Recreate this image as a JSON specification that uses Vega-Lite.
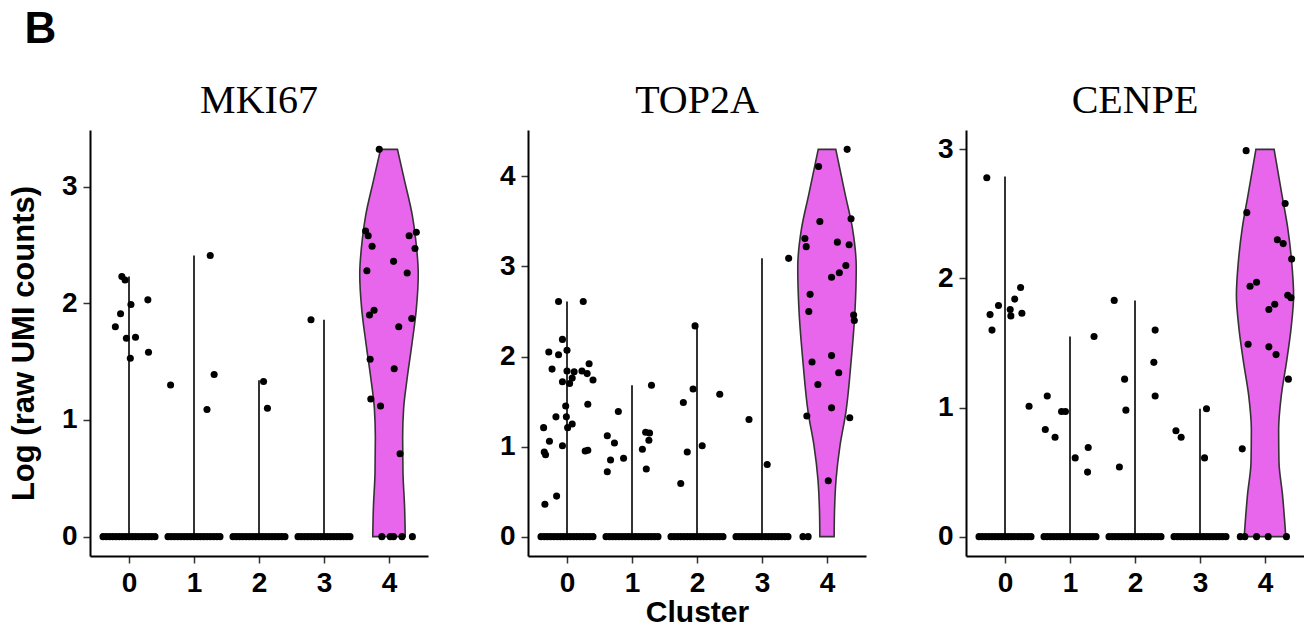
{
  "$schema": "https://vega.github.io/schema/vega-lite/v6.json",
  "padding": {"left": 8, "top": 8, "right": 0, "bottom": 0},
  "title": {"text": "B", "anchor": "start", "font": "Liberation Sans", "fontSize": 44, "fontWeight": "bold", "color": "#000000", "dx": 16, "offset": 29},
  "bounds": "flush",
  "spacing": 100,
  "config": {
    "view": {"stroke": null},
    "axis": {"grid": false, "domainColor": "#000000", "domainWidth": 2, "tickColor": "#333333", "tickWidth": 1.5, "tickSize": 7, "labelFont": "Liberation Sans", "labelFontWeight": "bold", "labelFontSize": 28, "labelColor": "#000000", "titleFont": "Liberation Sans", "titleFontWeight": "bold", "titleFontSize": 31, "titleColor": "#000000", "labelPadding": 6},
    "title": {"font": "Liberation Serif", "fontSize": 40, "fontWeight": "normal", "color": "#000000", "anchor": "middle", "offset": 9}
  },
  "datasets": {
    "pts": [
      {"gene":"MKI67","x":-0.11,"y":2.23},{"gene":"MKI67","x":-0.06,"y":2.2},{"gene":"MKI67","x":-0.13,"y":1.91},{"gene":"MKI67","x":0.03,"y":1.99},{"gene":"MKI67","x":0.29,"y":2.03},{"gene":"MKI67","x":-0.21,"y":1.8},{"gene":"MKI67","x":-0.04,"y":1.7},{"gene":"MKI67","x":0.1,"y":1.71},{"gene":"MKI67","x":0.3,"y":1.58},{"gene":"MKI67","x":0.02,"y":1.53},
      {"gene":"MKI67","x":0.64,"y":1.3},{"gene":"MKI67","x":1.25,"y":2.41},{"gene":"MKI67","x":1.31,"y":1.39},{"gene":"MKI67","x":1.2,"y":1.09},
      {"gene":"MKI67","x":2.07,"y":1.33},{"gene":"MKI67","x":2.13,"y":1.1},
      {"gene":"MKI67","x":2.8,"y":1.86},
      {"gene":"MKI67","x":3.85,"y":3.32},{"gene":"MKI67","x":3.64,"y":2.62},{"gene":"MKI67","x":3.68,"y":2.58},{"gene":"MKI67","x":3.74,"y":2.49},{"gene":"MKI67","x":3.66,"y":2.28},{"gene":"MKI67","x":4.31,"y":2.58},{"gene":"MKI67","x":4.42,"y":2.61},{"gene":"MKI67","x":4.4,"y":2.47},{"gene":"MKI67","x":4.07,"y":2.36},{"gene":"MKI67","x":4.28,"y":2.26},{"gene":"MKI67","x":3.7,"y":1.9},{"gene":"MKI67","x":3.77,"y":1.94},{"gene":"MKI67","x":4.35,"y":1.87},{"gene":"MKI67","x":4.15,"y":1.8},{"gene":"MKI67","x":3.71,"y":1.52},{"gene":"MKI67","x":4.08,"y":1.44},{"gene":"MKI67","x":3.72,"y":1.18},{"gene":"MKI67","x":3.87,"y":1.12},{"gene":"MKI67","x":4.17,"y":0.71},
      {"gene":"MKI67","x":3.89,"y":0},{"gene":"MKI67","x":4.02,"y":0},{"gene":"MKI67","x":4.07,"y":0},{"gene":"MKI67","x":4.2,"y":0},{"gene":"MKI67","x":4.36,"y":0},
      {"gene":"TOP2A","x":-0.13,"y":2.61},{"gene":"TOP2A","x":0.25,"y":2.61},{"gene":"TOP2A","x":-0.07,"y":2.19},{"gene":"TOP2A","x":-0.28,"y":2.05},{"gene":"TOP2A","x":-0.13,"y":2.02},{"gene":"TOP2A","x":0.0,"y":2.07},{"gene":"TOP2A","x":-0.23,"y":1.86},{"gene":"TOP2A","x":0.0,"y":1.84},{"gene":"TOP2A","x":0.11,"y":1.83},{"gene":"TOP2A","x":0.23,"y":1.84},{"gene":"TOP2A","x":0.31,"y":1.81},{"gene":"TOP2A","x":0.34,"y":1.92},{"gene":"TOP2A","x":0.4,"y":1.74},{"gene":"TOP2A","x":-0.07,"y":1.72},{"gene":"TOP2A","x":0.04,"y":1.7},{"gene":"TOP2A","x":0.08,"y":1.76},{"gene":"TOP2A","x":-0.02,"y":1.45},{"gene":"TOP2A","x":0.32,"y":1.47},{"gene":"TOP2A","x":-0.17,"y":1.33},{"gene":"TOP2A","x":-0.01,"y":1.33},{"gene":"TOP2A","x":0.01,"y":1.21},{"gene":"TOP2A","x":0.08,"y":1.25},{"gene":"TOP2A","x":-0.36,"y":1.21},{"gene":"TOP2A","x":-0.27,"y":1.06},{"gene":"TOP2A","x":-0.07,"y":1.01},{"gene":"TOP2A","x":-0.35,"y":0.94},{"gene":"TOP2A","x":-0.33,"y":0.91},{"gene":"TOP2A","x":0.28,"y":0.95},{"gene":"TOP2A","x":0.32,"y":0.96},{"gene":"TOP2A","x":-0.16,"y":0.45},{"gene":"TOP2A","x":-0.34,"y":0.36},
      {"gene":"TOP2A","x":0.62,"y":1.12},{"gene":"TOP2A","x":0.67,"y":0.85},{"gene":"TOP2A","x":0.62,"y":0.72},{"gene":"TOP2A","x":0.73,"y":1.04},{"gene":"TOP2A","x":0.79,"y":1.39},{"gene":"TOP2A","x":0.87,"y":0.87},{"gene":"TOP2A","x":1.16,"y":0.97},{"gene":"TOP2A","x":1.21,"y":1.16},{"gene":"TOP2A","x":1.27,"y":1.15},{"gene":"TOP2A","x":1.26,"y":1.07},{"gene":"TOP2A","x":1.22,"y":0.75},{"gene":"TOP2A","x":1.3,"y":1.68},
      {"gene":"TOP2A","x":1.79,"y":1.49},{"gene":"TOP2A","x":1.85,"y":0.94},{"gene":"TOP2A","x":1.75,"y":0.59},{"gene":"TOP2A","x":1.94,"y":1.64},{"gene":"TOP2A","x":1.97,"y":2.34},{"gene":"TOP2A","x":2.08,"y":1.01},{"gene":"TOP2A","x":2.35,"y":1.58},
      {"gene":"TOP2A","x":2.8,"y":1.3},{"gene":"TOP2A","x":3.08,"y":0.8},{"gene":"TOP2A","x":3.41,"y":3.09},
      {"gene":"TOP2A","x":4.31,"y":4.3},{"gene":"TOP2A","x":3.87,"y":4.11},{"gene":"TOP2A","x":3.89,"y":3.5},{"gene":"TOP2A","x":4.37,"y":3.53},{"gene":"TOP2A","x":3.66,"y":3.31},{"gene":"TOP2A","x":3.68,"y":3.22},{"gene":"TOP2A","x":4.16,"y":3.27},{"gene":"TOP2A","x":4.34,"y":3.24},{"gene":"TOP2A","x":4.29,"y":3.01},{"gene":"TOP2A","x":4.19,"y":2.93},{"gene":"TOP2A","x":4.07,"y":2.88},{"gene":"TOP2A","x":3.74,"y":2.69},{"gene":"TOP2A","x":3.72,"y":2.5},{"gene":"TOP2A","x":4.41,"y":2.46},{"gene":"TOP2A","x":4.42,"y":2.4},{"gene":"TOP2A","x":3.77,"y":1.94},{"gene":"TOP2A","x":4.07,"y":2.01},{"gene":"TOP2A","x":3.86,"y":1.69},{"gene":"TOP2A","x":4.18,"y":1.82},{"gene":"TOP2A","x":4.07,"y":1.43},{"gene":"TOP2A","x":3.69,"y":1.34},{"gene":"TOP2A","x":4.35,"y":1.32},{"gene":"TOP2A","x":4.02,"y":0.62},
      {"gene":"TOP2A","x":3.63,"y":0},{"gene":"TOP2A","x":3.71,"y":0},
      {"gene":"CENPE","x":-0.28,"y":2.78},{"gene":"CENPE","x":-0.23,"y":1.72},{"gene":"CENPE","x":-0.1,"y":1.79},{"gene":"CENPE","x":-0.2,"y":1.6},{"gene":"CENPE","x":0.08,"y":1.76},{"gene":"CENPE","x":0.09,"y":1.71},{"gene":"CENPE","x":0.15,"y":1.84},{"gene":"CENPE","x":0.24,"y":1.93},{"gene":"CENPE","x":0.26,"y":1.73},{"gene":"CENPE","x":0.37,"y":1.01},
      {"gene":"CENPE","x":0.65,"y":1.09},{"gene":"CENPE","x":0.62,"y":0.83},{"gene":"CENPE","x":0.77,"y":0.77},{"gene":"CENPE","x":0.87,"y":0.97},{"gene":"CENPE","x":0.93,"y":0.97},{"gene":"CENPE","x":1.08,"y":0.61},{"gene":"CENPE","x":1.28,"y":0.69},{"gene":"CENPE","x":1.27,"y":0.5},{"gene":"CENPE","x":1.37,"y":1.55},
      {"gene":"CENPE","x":1.68,"y":1.83},{"gene":"CENPE","x":1.76,"y":0.54},{"gene":"CENPE","x":1.84,"y":1.22},{"gene":"CENPE","x":1.86,"y":0.98},{"gene":"CENPE","x":2.31,"y":1.6},{"gene":"CENPE","x":2.29,"y":1.35},{"gene":"CENPE","x":2.31,"y":1.09},
      {"gene":"CENPE","x":2.63,"y":0.82},{"gene":"CENPE","x":2.71,"y":0.77},{"gene":"CENPE","x":3.1,"y":0.99},{"gene":"CENPE","x":3.07,"y":0.61},
      {"gene":"CENPE","x":3.71,"y":2.99},{"gene":"CENPE","x":3.72,"y":2.51},{"gene":"CENPE","x":4.31,"y":2.58},{"gene":"CENPE","x":4.19,"y":2.3},{"gene":"CENPE","x":4.28,"y":2.27},{"gene":"CENPE","x":4.41,"y":2.15},{"gene":"CENPE","x":3.77,"y":1.94},{"gene":"CENPE","x":3.87,"y":1.97},{"gene":"CENPE","x":4.35,"y":1.87},{"gene":"CENPE","x":4.4,"y":1.85},{"gene":"CENPE","x":4.15,"y":1.8},{"gene":"CENPE","x":4.06,"y":1.76},{"gene":"CENPE","x":3.74,"y":1.49},{"gene":"CENPE","x":4.06,"y":1.47},{"gene":"CENPE","x":4.17,"y":1.41},{"gene":"CENPE","x":4.36,"y":1.22},{"gene":"CENPE","x":3.65,"y":0.68},
      {"gene":"CENPE","x":3.62,"y":0},{"gene":"CENPE","x":3.69,"y":0},{"gene":"CENPE","x":3.87,"y":0},{"gene":"CENPE","x":4.05,"y":0},{"gene":"CENPE","x":4.33,"y":0}
    ],
    "zero": [
      {"x":-0.4,"y":0},{"x":-0.35,"y":0},{"x":-0.3,"y":0},{"x":-0.25,"y":0},{"x":-0.2,"y":0},{"x":-0.15,"y":0},{"x":-0.1,"y":0},{"x":-0.05,"y":0},{"x":0,"y":0},{"x":0.05,"y":0},{"x":0.1,"y":0},{"x":0.15,"y":0},{"x":0.2,"y":0},{"x":0.25,"y":0},{"x":0.3,"y":0},{"x":0.35,"y":0},{"x":0.4,"y":0},
      {"x":0.6,"y":0},{"x":0.65,"y":0},{"x":0.7,"y":0},{"x":0.75,"y":0},{"x":0.8,"y":0},{"x":0.85,"y":0},{"x":0.9,"y":0},{"x":0.95,"y":0},{"x":1,"y":0},{"x":1.05,"y":0},{"x":1.1,"y":0},{"x":1.15,"y":0},{"x":1.2,"y":0},{"x":1.25,"y":0},{"x":1.3,"y":0},{"x":1.35,"y":0},{"x":1.4,"y":0},
      {"x":1.6,"y":0},{"x":1.65,"y":0},{"x":1.7,"y":0},{"x":1.75,"y":0},{"x":1.8,"y":0},{"x":1.85,"y":0},{"x":1.9,"y":0},{"x":1.95,"y":0},{"x":2,"y":0},{"x":2.05,"y":0},{"x":2.1,"y":0},{"x":2.15,"y":0},{"x":2.2,"y":0},{"x":2.25,"y":0},{"x":2.3,"y":0},{"x":2.35,"y":0},{"x":2.4,"y":0},
      {"x":2.6,"y":0},{"x":2.65,"y":0},{"x":2.7,"y":0},{"x":2.75,"y":0},{"x":2.8,"y":0},{"x":2.85,"y":0},{"x":2.9,"y":0},{"x":2.95,"y":0},{"x":3,"y":0},{"x":3.05,"y":0},{"x":3.1,"y":0},{"x":3.15,"y":0},{"x":3.2,"y":0},{"x":3.25,"y":0},{"x":3.3,"y":0},{"x":3.35,"y":0},{"x":3.4,"y":0}
    ],
    "lines": [
      {"gene":"MKI67","x":0,"lo":0,"hi":2.23},{"gene":"MKI67","x":1,"lo":0,"hi":2.41},{"gene":"MKI67","x":2,"lo":0,"hi":1.34},{"gene":"MKI67","x":3,"lo":0,"hi":1.86},
      {"gene":"TOP2A","x":0,"lo":0,"hi":2.61},{"gene":"TOP2A","x":1,"lo":0,"hi":1.68},{"gene":"TOP2A","x":2,"lo":0,"hi":2.34},{"gene":"TOP2A","x":3,"lo":0,"hi":3.09},
      {"gene":"CENPE","x":0,"lo":0,"hi":2.79},{"gene":"CENPE","x":1,"lo":0,"hi":1.55},{"gene":"CENPE","x":2,"lo":0,"hi":1.83},{"gene":"CENPE","x":3,"lo":0,"hi":0.99}
    ],
    "violin": [
      {"gene":"MKI67","y":0,"lo":3.75,"hi":4.25},{"gene":"MKI67","y":0.25,"lo":3.76,"hi":4.24},{"gene":"MKI67","y":0.55,"lo":3.785,"hi":4.215},{"gene":"MKI67","y":0.85,"lo":3.79,"hi":4.21},{"gene":"MKI67","y":1.1,"lo":3.775,"hi":4.225},{"gene":"MKI67","y":1.36,"lo":3.72,"hi":4.28},{"gene":"MKI67","y":1.64,"lo":3.65,"hi":4.35},{"gene":"MKI67","y":1.95,"lo":3.58,"hi":4.42},{"gene":"MKI67","y":2.25,"lo":3.55,"hi":4.45},{"gene":"MKI67","y":2.55,"lo":3.59,"hi":4.41},{"gene":"MKI67","y":2.75,"lo":3.64,"hi":4.36},{"gene":"MKI67","y":3.05,"lo":3.76,"hi":4.24},{"gene":"MKI67","y":3.32,"lo":3.87,"hi":4.13},
      {"gene":"TOP2A","y":0,"lo":3.89,"hi":4.11},{"gene":"TOP2A","y":0.27,"lo":3.885,"hi":4.115},{"gene":"TOP2A","y":0.64,"lo":3.86,"hi":4.14},{"gene":"TOP2A","y":1.01,"lo":3.8,"hi":4.2},{"gene":"TOP2A","y":1.38,"lo":3.71,"hi":4.29},{"gene":"TOP2A","y":1.94,"lo":3.63,"hi":4.37},{"gene":"TOP2A","y":2.5,"lo":3.57,"hi":4.43},{"gene":"TOP2A","y":2.99,"lo":3.55,"hi":4.45},{"gene":"TOP2A","y":3.43,"lo":3.61,"hi":4.39},{"gene":"TOP2A","y":3.8,"lo":3.72,"hi":4.28},{"gene":"TOP2A","y":4.3,"lo":3.865,"hi":4.135},
      {"gene":"CENPE","y":0,"lo":3.68,"hi":4.32},{"gene":"CENPE","y":0.32,"lo":3.73,"hi":4.27},{"gene":"CENPE","y":0.58,"lo":3.785,"hi":4.215},{"gene":"CENPE","y":0.83,"lo":3.79,"hi":4.21},{"gene":"CENPE","y":1.09,"lo":3.75,"hi":4.25},{"gene":"CENPE","y":1.35,"lo":3.67,"hi":4.33},{"gene":"CENPE","y":1.61,"lo":3.6,"hi":4.4},{"gene":"CENPE","y":1.87,"lo":3.56,"hi":4.44},{"gene":"CENPE","y":2.13,"lo":3.59,"hi":4.41},{"gene":"CENPE","y":2.39,"lo":3.65,"hi":4.35},{"gene":"CENPE","y":2.65,"lo":3.74,"hi":4.26},{"gene":"CENPE","y":3.0,"lo":3.86,"hi":4.14}
    ]
  },
  "hconcat": [
    {
      "width": 338, "height": 426,
      "title": "MKI67",
      "layer": [
        {"data": {"name": "violin"}, "transform": [{"filter": "datum.gene === 'MKI67'"}],
         "mark": {"type": "area", "orient": "horizontal", "interpolate": "monotone", "fill": "#E766EC", "fillOpacity": 1, "stroke": "#333333", "strokeWidth": 1.6},
         "encoding": {
           "y": {"field": "y", "type": "quantitative", "title": "Log (raw UMI counts)", "scale": {"domain": [-0.166, 3.486], "nice": false, "zero": false}, "axis": {"values": [0, 1, 2, 3], "format": "d", "titlePadding": 21}},
           "x": {"field": "lo", "type": "quantitative", "title": null, "scale": {"domain": [-0.6, 4.6], "nice": false, "zero": false}, "axis": {"values": [0, 1, 2, 3, 4], "format": "d"}},
           "x2": {"field": "hi"}
         }},
        {"data": {"name": "lines"}, "transform": [{"filter": "datum.gene === 'MKI67'"}],
         "mark": {"type": "rule", "color": "#333333", "strokeWidth": 2},
         "encoding": {
           "x": {"field": "x", "type": "quantitative", "title": null},
           "y": {"field": "lo", "type": "quantitative", "title": "Log (raw UMI counts)"},
           "y2": {"field": "hi"}
         }},
        {"data": {"name": "zero"},
         "mark": {"type": "circle", "color": "#000000", "opacity": 1, "size": 50},
         "encoding": {
           "x": {"field": "x", "type": "quantitative", "title": null},
           "y": {"field": "y", "type": "quantitative", "title": "Log (raw UMI counts)"}
         }},
        {"data": {"name": "pts"}, "transform": [{"filter": "datum.gene === 'MKI67'"}],
         "mark": {"type": "circle", "color": "#000000", "opacity": 1, "size": 50},
         "encoding": {
           "x": {"field": "x", "type": "quantitative", "title": null},
           "y": {"field": "y", "type": "quantitative", "title": "Log (raw UMI counts)"}
         }}
      ]
    },
    {
      "width": 338, "height": 426,
      "title": "TOP2A",
      "layer": [
        {"data": {"name": "violin"}, "transform": [{"filter": "datum.gene === 'TOP2A'"}],
         "mark": {"type": "area", "orient": "horizontal", "interpolate": "monotone", "fill": "#E766EC", "fillOpacity": 1, "stroke": "#333333", "strokeWidth": 1.6},
         "encoding": {
           "y": {"field": "y", "type": "quantitative", "title": null, "scale": {"domain": [-0.215, 4.515], "nice": false, "zero": false}, "axis": {"values": [0, 1, 2, 3, 4], "format": "d"}},
           "x": {"field": "lo", "type": "quantitative", "title": "Cluster", "scale": {"domain": [-0.6, 4.6], "nice": false, "zero": false}, "axis": {"values": [0, 1, 2, 3, 4], "format": "d", "titlePadding": 0, "titleFontSize": 30}},
           "x2": {"field": "hi"}
         }},
        {"data": {"name": "lines"}, "transform": [{"filter": "datum.gene === 'TOP2A'"}],
         "mark": {"type": "rule", "color": "#333333", "strokeWidth": 2},
         "encoding": {
           "x": {"field": "x", "type": "quantitative", "title": "Cluster"},
           "y": {"field": "lo", "type": "quantitative", "title": null},
           "y2": {"field": "hi"}
         }},
        {"data": {"name": "zero"},
         "mark": {"type": "circle", "color": "#000000", "opacity": 1, "size": 50},
         "encoding": {
           "x": {"field": "x", "type": "quantitative", "title": "Cluster"},
           "y": {"field": "y", "type": "quantitative", "title": null}
         }},
        {"data": {"name": "pts"}, "transform": [{"filter": "datum.gene === 'TOP2A'"}],
         "mark": {"type": "circle", "color": "#000000", "opacity": 1, "size": 50},
         "encoding": {
           "x": {"field": "x", "type": "quantitative", "title": "Cluster"},
           "y": {"field": "y", "type": "quantitative", "title": null}
         }}
      ]
    },
    {
      "width": 338, "height": 426,
      "title": "CENPE",
      "layer": [
        {"data": {"name": "violin"}, "transform": [{"filter": "datum.gene === 'CENPE'"}],
         "mark": {"type": "area", "orient": "horizontal", "interpolate": "monotone", "fill": "#E766EC", "fillOpacity": 1, "stroke": "#333333", "strokeWidth": 1.6},
         "encoding": {
           "y": {"field": "y", "type": "quantitative", "title": null, "scale": {"domain": [-0.15, 3.15], "nice": false, "zero": false}, "axis": {"values": [0, 1, 2, 3], "format": "d"}},
           "x": {"field": "lo", "type": "quantitative", "title": null, "scale": {"domain": [-0.6, 4.6], "nice": false, "zero": false}, "axis": {"values": [0, 1, 2, 3, 4], "format": "d"}},
           "x2": {"field": "hi"}
         }},
        {"data": {"name": "lines"}, "transform": [{"filter": "datum.gene === 'CENPE'"}],
         "mark": {"type": "rule", "color": "#333333", "strokeWidth": 2},
         "encoding": {
           "x": {"field": "x", "type": "quantitative", "title": null},
           "y": {"field": "lo", "type": "quantitative", "title": null},
           "y2": {"field": "hi"}
         }},
        {"data": {"name": "zero"},
         "mark": {"type": "circle", "color": "#000000", "opacity": 1, "size": 50},
         "encoding": {
           "x": {"field": "x", "type": "quantitative", "title": null},
           "y": {"field": "y", "type": "quantitative", "title": null}
         }},
        {"data": {"name": "pts"}, "transform": [{"filter": "datum.gene === 'CENPE'"}],
         "mark": {"type": "circle", "color": "#000000", "opacity": 1, "size": 50},
         "encoding": {
           "x": {"field": "x", "type": "quantitative", "title": null},
           "y": {"field": "y", "type": "quantitative", "title": null}
         }}
      ]
    }
  ]
}
